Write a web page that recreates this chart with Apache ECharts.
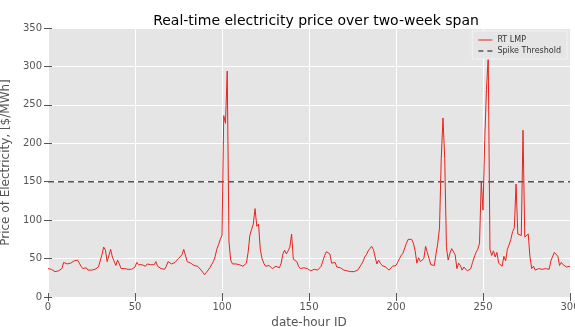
<!DOCTYPE html>
<html>
<head>
<meta charset="utf-8">
<script src="https://cdn.jsdelivr.net/npm/echarts@6/dist/echarts.min.js"></script>
<style>
  html, body { margin: 0; padding: 0; background: #fff; }
  #chart { width: 575px; height: 327px; }
</style>
</head>
<body>
<div id="chart"></div>
<script>
// real-time LMP, one value per date-hour ID (0..300)
const rtLmp = [
  37, 36, 36, 35, 33, 33, 34, 36, 37, 45,
  44, 43, 43, 44, 45, 47, 45, 48, 44, 40,
  37, 38, 38, 35, 35, 35, 35, 36, 38, 39,
  41, 55, 65, 61, 46, 48, 62, 52, 51, 41,
  48, 43, 37, 37, 37, 37, 36, 36, 36, 37,
  39, 45, 42, 42, 42, 41, 40, 43, 45, 42,
  41, 42, 46, 40, 38, 37, 37, 36, 40, 46,
  46, 43, 44, 45, 47, 50, 49, 55, 62, 62,
  46, 45, 44, 42, 41, 41, 40, 38, 35, 32,
  29, 32, 35, 38, 38, 46, 52, 62, 68, 75,
  80, 236, 226, 294, 72, 48, 43, 45, 43, 44,
  42, 41, 40, 41, 44, 58, 80, 88, 95, 115,
  92, 95, 62, 50, 44, 40, 40, 41, 39, 37,
  39, 40, 40, 38, 44, 56, 61, 56, 60, 65,
  82, 49, 48, 46, 40, 37, 37, 38, 38, 37,
  36, 34, 35, 36, 35, 35, 36, 40, 47, 54,
  59, 59, 56, 44, 43, 45, 39, 41, 38, 36,
  35, 34, 34, 33, 33, 33, 33, 34, 35, 37,
  42, 46, 52, 55, 60, 63, 66, 62, 52, 43,
  48, 44, 41, 40, 39, 37, 35, 36, 40, 41,
  41, 42, 50, 54, 57, 57, 70, 75, 77, 75,
  70, 60, 44, 51, 46, 47, 50, 66, 58, 50,
  42, 42, 41, 56, 70, 90, 180, 233, 180, 64,
  48, 57, 63, 65, 55, 37, 44, 41, 35, 39,
  37, 34, 33, 37, 45, 52, 58, 62, 70, 150,
  113, 205, 270, 312, 62, 54, 60, 52, 58, 44,
  42, 40, 53, 47, 62, 68, 75, 85, 90, 147,
  82, 81, 80, 217, 78, 77, 82, 52, 37, 40,
  35, 36, 37, 37, 36, 37, 37, 36, 36, 47,
  47, 58, 60, 53, 41, 45, 42, 41, 39, 39,
  40
];
const spikeThreshold = 150;
const xTicks = [0, 50, 100, 150, 200, 250, 300];
const yTicks = [0, 50, 100, 150, 200, 250, 300, 350];

const lmpPoints = rtLmp.map((v, i) => [i, v]);
const thresholdPoints = [[xTicks[0], spikeThreshold], [xTicks[xTicks.length - 1], spikeThreshold]];

const chart = echarts.init(document.getElementById('chart'), null, { renderer: 'canvas' });

const tickStyle = { show: true, length: 4, lineStyle: { color: '#555555', width: 1 } };
const labelFont = { color: '#555555', fontSize: 10, fontFamily: 'DejaVu Sans' };

chart.setOption({
  animation: false,
  backgroundColor: '#ffffff',
  title: {
    text: 'Real-time electricity price over two-week span',
    left: 311,
    textAlign: 'center',
    top: 9,
    textStyle: { fontSize: 14, fontWeight: 'normal', color: '#000000', fontFamily: 'DejaVu Sans' }
  },
  legend: {
    right: 8,
    top: 31,
    orient: 'vertical',
    backgroundColor: '#e5e5e5',
    borderColor: '#f2f2f2',
    borderWidth: 1,
    padding: [5, 6, 4, 6],
    itemGap: 3,
    itemWidth: 14,
    itemHeight: 8,
    textStyle: { fontSize: 8, color: '#333333', fontFamily: 'DejaVu Sans' },
    data: [
      { name: 'RT LMP', icon: 'path://M0,4L14,4L14,5L0,5Z' },
      { name: 'Spike Threshold', icon: 'path://M0,4L5,4L5,5.5L0,5.5ZM9,4L14,4L14,5.5L9,5.5Z' }
    ]
  },
  grid: {
    left: 48, right: 5, top: 28, bottom: 30,
    outerBoundsMode: 'none',
    containLabel: false,
    backgroundColor: '#e5e5e5', show: true, borderWidth: 0
  },
  xAxis: [{
    type: 'value',
    min: 0, max: 300, interval: 50,
    name: 'date-hour ID',
    nameLocation: 'middle',
    nameGap: 20,
    nameTextStyle: { fontSize: 12, color: '#555555', fontFamily: 'DejaVu Sans' },
    axisLine: { show: false },
    axisTick: tickStyle,
    axisLabel: Object.assign({ margin: 5, formatter: v => xTicks.includes(v) ? String(v) : '' }, labelFont),
    splitLine: { show: true, lineStyle: { color: '#ffffff', width: 1 } }
  }, {
    type: 'value', position: 'top',
    min: 0, max: 300, interval: 50,
    axisLine: { show: false },
    axisTick: tickStyle,
    axisLabel: { show: false },
    splitLine: { show: false }
  }],
  yAxis: [{
    type: 'value',
    min: 0, max: 350, interval: 50,
    name: 'Price of Electricity, [$/MWh]',
    nameLocation: 'middle',
    nameGap: 31,
    nameTextStyle: { fontSize: 12, color: '#555555', fontFamily: 'DejaVu Sans' },
    axisLine: { show: false },
    axisTick: tickStyle,
    axisLabel: Object.assign({ margin: 6, formatter: v => yTicks.includes(v) ? String(v) : '' }, labelFont),
    splitLine: { show: true, lineStyle: { color: '#ffffff', width: 1 } }
  }, {
    type: 'value', position: 'right',
    min: 0, max: 350, interval: 50,
    axisLine: { show: false },
    axisTick: tickStyle,
    axisLabel: { show: false },
    splitLine: { show: false }
  }],
  series: [{
    name: 'RT LMP',
    type: 'line',
    data: lmpPoints,
    showSymbol: false,
    symbol: 'none',
    itemStyle: { color: '#e8231f' },
    lineStyle: { color: '#e8231f', width: 1 },
    z: 3
  }, {
    name: 'Spike Threshold',
    type: 'line',
    data: thresholdPoints,
    symbol: 'none',
    itemStyle: { color: '#555555' },
    lineStyle: { color: '#555555', width: 1.5, type: [6, 4] },
    z: 2
  }]
});
</script>
</body>
</html>
